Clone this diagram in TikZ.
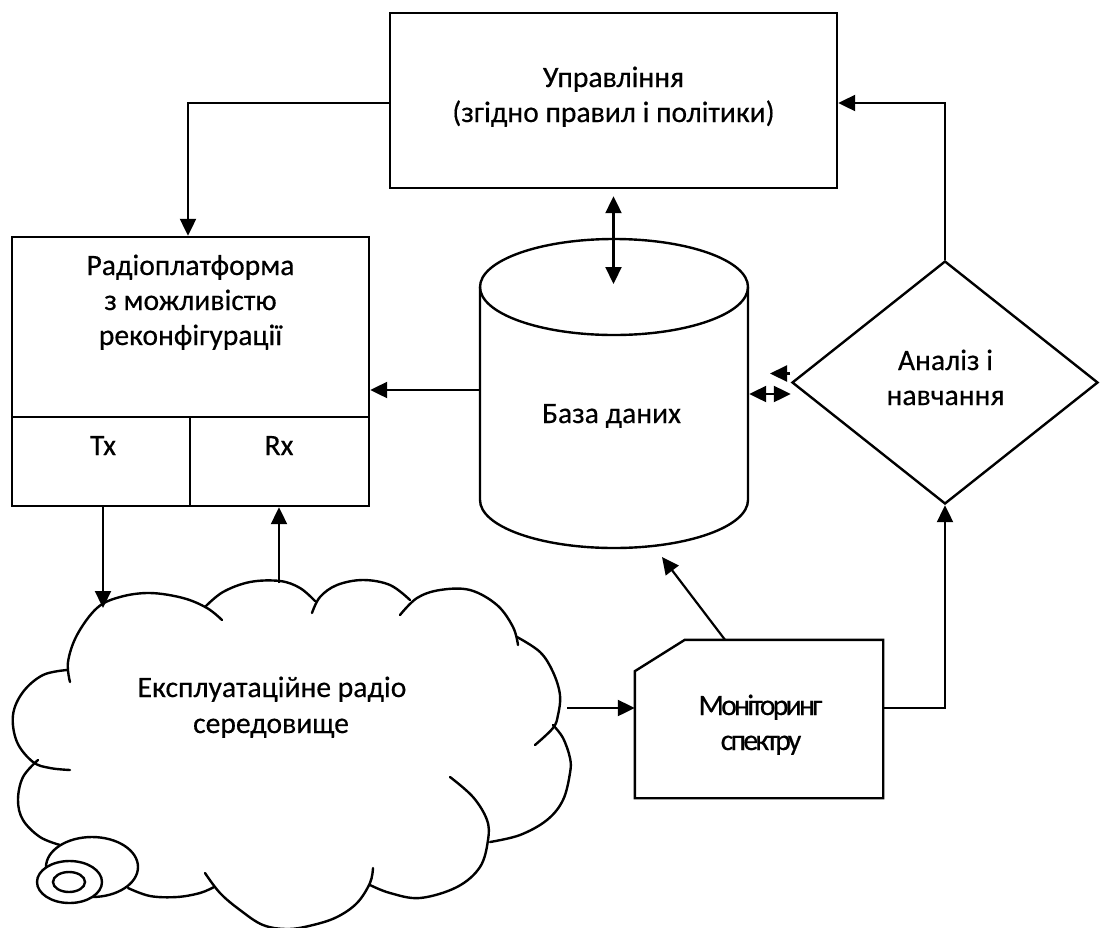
\documentclass[tikz,border=0pt]{standalone}
\usepackage{fontspec}
\setmainfont{Carlito}[FakeBold=0.4]
\newfontfamily\tightfont[LetterSpace=-9,FakeBold=0.4]{Carlito}
\usetikzlibrary{arrows.meta,shapes.geometric}
\begin{document}
\begin{tikzpicture}[x=1pt,y=-1pt,
  line width=2.4pt,
  block/.style={draw, line width=2.4pt, inner sep=0pt},
  ghost/.style={inner sep=0pt},
  lbl/.style={anchor=base, inner sep=0pt, font=\fontsize{29.6}{35}\selectfont},
  tightlbl/.style={lbl, font=\tightfont\fontsize{29.6}{35}\selectfont},
  link/.style={line width=2.2pt, -{Triangle[length=17pt,width=16pt]}},
  biglink/.style={line width=2.2pt, {Triangle[length=17pt,width=16pt]}-{Triangle[length=17pt,width=16pt]}},
  puff/.style={line width=2.4pt, line cap=round, line join=round},
]
\useasboundingbox (0,0) rectangle (1100,927);
\clip (0,0) rectangle (1100,927);

% control unit
\node[block, minimum width=447pt, minimum height=175pt] (ctrl) at (613.5,100.5) {};
\node[lbl] (ctrlA) at (613.5,87) {Управління};
\node[lbl] (ctrlB) at (613.5,122) {(згідно правил і політики)};

% reconfigurable radio platform
\node[block, minimum width=357pt, minimum height=269pt] (radio) at (190.5,371.5) {};
\coordinate (split) at (190,417);
\draw (radio.west |- split) -- (radio.east |- split);
\draw (split) -- (split |- radio.south);
\node[lbl] (radA) at (190.5,275) {Радіоплатформа};
\node[lbl] (radB) at (190.5,310) {з можливістю};
\node[lbl] (radC) at (190.5,345) {реконфігурації};
\node[lbl] (tx) at (103,455) {Tx};
\node[lbl] (rx) at (279,455) {Rx};

% database cylinder
\node[ghost, minimum width=268pt, minimum height=311pt] (db) at (614,392.5) {};
\draw (480,287) -- (480,500) arc[start angle=180, end angle=0, x radius=134, y radius=48] -- (748,287);
\draw (614,287) ellipse[x radius=134, y radius=48];
\node[lbl] (dbtxt) at (611.5,423) {База даних};

% analysis and learning
\node[draw, diamond, line width=2.4pt, inner sep=0pt, minimum width=306pt, minimum height=243pt] (ana) at (945,382.5) {};
\node[lbl] (anaA) at (945.5,370) {Аналіз і};
\node[lbl] (anaB) at (945.5,405) {навчання};

% spectrum monitoring
\node[ghost, minimum width=246pt, minimum height=156pt] (mon) at (759,719) {};
\draw (mon.south west) -- ([yshift=127pt]mon.south west) -- ([xshift=50pt]mon.north west)
  -- (mon.north east) -- (mon.south east) -- cycle;
\node[tightlbl] (monA) at (760.5,715) {Моніторинг};
\node[tightlbl] (monB) at (761,750) {спектру};

% operating radio environment (cloud)
\node[ghost, minimum width=560pt, minimum height=350pt] (env) at (292,755) {};
\draw[puff] plot[smooth, tension=0.6] coordinates {(70,682) (68,662) (77,635) (97,608) (120,597) (150,593) (183,598) (207,608) (222,620)};
\draw[puff] plot[smooth, tension=0.6] coordinates {(205,607) (223,592) (250,582) (280,581) (300,588) (315,601)};
\draw[puff] plot[smooth, tension=0.6] coordinates {(312,613) (320,597) (337,585) (363,580) (390,585) (410,600)};
\draw[puff] plot[smooth, tension=0.6] coordinates {(400,615) (417,598) (440,590) (470,590) (497,605) (513,627) (518,645)};
\draw[puff] plot[smooth, tension=0.6] coordinates {(517,637) (540,652) (553,672) (560,695) (558,715) (553,728) (535,745)};
\draw[puff] plot[smooth, tension=0.6] coordinates {(553,725) (563,738) (570,758) (570,773) (563,800) (547,820) (520,835) (490,842)};
\draw[puff] plot[smooth, tension=0.6] coordinates {(450,777) (473,797) (487,820) (488,840) (480,867) (457,887) (420,898) (390,893) (370,885)};
\draw[puff] plot[smooth, tension=0.6] coordinates {(373,868) (370,883) (357,903) (337,917) (313,925) (288,929) (263,925) (240,910) (220,893) (205,873)};
\draw[puff] plot[smooth, tension=0.6] coordinates {(128,888) (150,896) (177,897) (200,893) (214,887)};
\draw[puff] plot[smooth, tension=0.6] coordinates {(38,760) (23,777) (18,800) (23,820) (40,837) (60,845)};
\draw[puff] plot[smooth, tension=0.6] coordinates {(67,670) (43,675) (23,692) (13,715) (17,742) (33,762) (50,768) (70,770)};
\draw[fill=white] (92,867) ellipse[x radius=46, y radius=30];
\draw[fill=white] (69.5,882) ellipse[x radius=32.5, y radius=21];
\draw (69,882) ellipse[x radius=16, y radius=10];
\node[lbl] (envA) at (272,697) {Експлуатаційне радіо};
\node[lbl] (envB) at (271,733) {середовище};

% connection points
\coordinate (txin) at (103,608);
\coordinate (rxout) at (279,583);
\coordinate (envout) at (567,708);
\coordinate (dbin) at (662,557);
\coordinate (dbcap) at (613.5,284);
\coordinate (anastub) at (790,373.5);
\coordinate (anatip) at (770,373.5);
\path ([yshift=2.5pt]db.west) coordinate (dbw);
\path ([yshift=-1.5pt]db.east) coordinate (dbe);

% connectors
\draw[link] ([yshift=-2.5pt]ctrl.west) -| ([xshift=-2.5pt]radio.north);
\draw[link] (ana.north) |- ([yshift=-2.5pt]ctrl.east);
\draw[biglink] ([yshift=-7pt]ctrl.south) -- (dbcap);
\draw[link] (dbw) -- (dbw -| radio.east);
\draw[biglink] (dbe) -- (dbe -| ana.west);
\draw[link] (anastub) -- (anatip);
\draw[link] (tx |- radio.south) -- (txin);
\draw[link] (rxout) -- (rx |- radio.south);
\draw[link] (envout) -- (envout -| mon.west);
\draw[link] (mon.east |- envout) -| (ana.south);
\draw[link] ([xshift=-34pt]mon.north) -- (dbin);
\end{tikzpicture}
\end{document}
